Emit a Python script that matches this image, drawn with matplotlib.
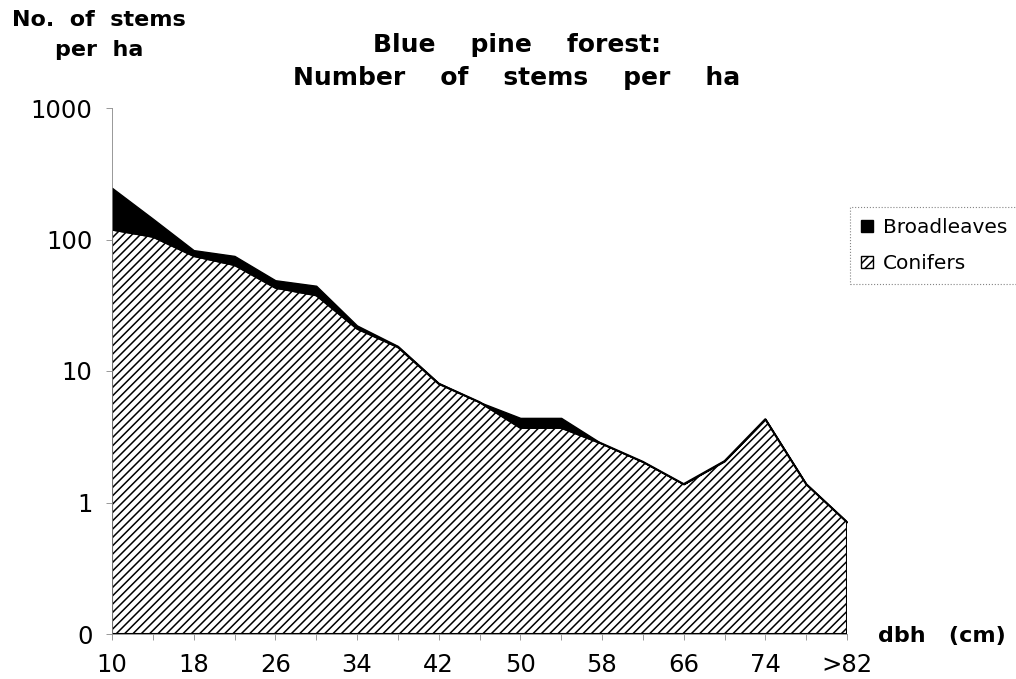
import matplotlib
matplotlib.use("Agg")
import matplotlib.pyplot as plt
from matplotlib.patches import Patch

plt.rcParams['font.family'] = ['DejaVu Sans']
plt.rcParams['hatch.linewidth'] = 1.1

# dbh classes (cm) and stems per ha
dbh = [10, 14, 18, 22, 26, 30, 34, 38, 42, 46, 50, 54, 58, 62, 66, 70, 74, 78, 82]
conifers = [119, 105, 75, 64, 43, 37.7, 21, 15.2, 8.0, 5.8, 3.7, 3.7, 2.8, 2.04, 1.38, 2.06, 4.3, 1.38, 0.71]
broadleaves = [128, 39, 8, 11, 6, 6.8, 1.2, 0.3, 0.1, 0, 0.7, 0.7, 0, 0, 0, 0.03, 0, 0, 0]
tick_pos = [10, 18, 26, 34, 42, 50, 58, 66, 74, 82]
tick_lab = ['10', '18', '26', '34', '42', '50', '58', '66', '74', '>82']
ytick_pos = [0.1, 1, 10, 100, 1000]
ytick_lab = ['0', '1', '10', '100', '1000']

total = [c + b for c, b in zip(conifers, broadleaves)]

fig = plt.figure(figsize=(10.16, 6.79), dpi=100)
ax = fig.add_axes([112/1016, 1-634/679, (847-112)/1016, (634-108)/679])

ax.fill_between(dbh, 0.1, conifers, facecolor='white', edgecolor='black',
                hatch='////', linewidth=1.5)
ax.fill_between(dbh, conifers, total, facecolor='black', edgecolor='black', linewidth=1.0)

ax.set_yscale('log')
ax.set_ylim(0.1, 1000)
ax.set_xlim(10, 82)
ax.set_yticks(ytick_pos)
ax.set_yticklabels(ytick_lab)
ax.minorticks_off()
ax.set_xticks(tick_pos)
ax.set_xticklabels(tick_lab)
ax.set_xticks(dbh[1::2], minor=True)
ax.tick_params(axis='both', which='both', direction='out', length=4, width=0.6,
               color='#888888', labelsize=17.5, pad=10)

for s in ['top', 'right']:
    ax.spines[s].set_visible(False)
for s in ['left', 'bottom']:
    ax.spines[s].set_color('#888888')
    ax.spines[s].set_linewidth(0.6)

fig.text(517/1016, 1-45/679, 'Blue    pine    forest:', ha='center', va='center',
         fontsize=18, fontweight='bold')
fig.text(517/1016, 1-78/679, 'Number    of    stems    per    ha', ha='center', va='center',
         fontsize=18, fontweight='bold')
fig.text(99/1016, 1-20/679, 'No.  of  stems', ha='center', va='center',
         fontsize=16, fontweight='bold')
fig.text(99/1016, 1-50/679, 'per  ha', ha='center', va='center',
         fontsize=16, fontweight='bold')
fig.text(942/1016, 1-636/679, 'dbh   (cm)', ha='center', va='center',
         fontsize=16, fontweight='bold')

handles = [Patch(facecolor='black', edgecolor='black'),
           Patch(facecolor='white', edgecolor='black', hatch='////')]
leg = fig.legend(handles, ['Broadleaves', 'Conifers'], loc='upper left',
                 bbox_to_anchor=(850/1016, 1-207/679), fontsize=14.5,
                 handlelength=0.6, handleheight=0.6, handletextpad=0.5,
                 labelspacing=0.85, borderpad=0.55, borderaxespad=0,
                 fancybox=False)
leg.get_frame().set_edgecolor('#666666')
leg.get_frame().set_linestyle(':')
leg.get_frame().set_linewidth(0.8)

fig.savefig('out.png', dpi=100)
